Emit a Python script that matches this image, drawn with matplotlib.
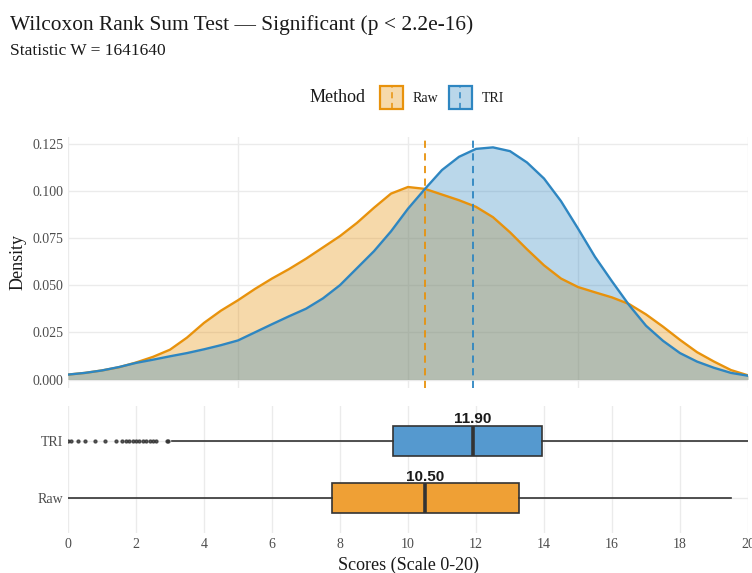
import matplotlib.pyplot as plt
from matplotlib.patches import Rectangle
from matplotlib.lines import Line2D

plt.rcParams["font.family"] = ["Liberation Serif", "DejaVu Serif"]

# density estimates of the scores, sampled every half point
score_grid = [0.0, 0.5, 1.0, 1.5, 2.0, 2.5, 3.0, 3.5, 4.0, 4.5, 5.0,
              5.5, 6.0, 6.5, 7.0, 7.5, 8.0, 8.5, 9.0, 9.5, 10.0,
              10.5, 11.0, 11.5, 12.0, 12.5, 13.0, 13.5, 14.0, 14.5, 15.0,
              15.5, 16.0, 16.5, 17.0, 17.5, 18.0, 18.5, 19.0, 19.5, 20.0]
raw_density = [0.0026, 0.0035, 0.0048, 0.0065, 0.0090, 0.0120, 0.0158, 0.0222, 0.0300, 0.0365, 0.0420,
               0.0480, 0.0535, 0.0585, 0.0640, 0.0700, 0.0760, 0.0830, 0.0910, 0.0985, 0.1020,
               0.1010, 0.0980, 0.0950, 0.0915, 0.0860, 0.0780, 0.0690, 0.0605, 0.0535, 0.0490,
               0.0462, 0.0435, 0.0400, 0.0345, 0.0280, 0.0210, 0.0145, 0.0095, 0.0050, 0.0022]
tri_density = [0.0026, 0.0035, 0.0048, 0.0066, 0.0088, 0.0105, 0.0123, 0.0140, 0.0160, 0.0182, 0.0207,
               0.0250, 0.0293, 0.0335, 0.0375, 0.0430, 0.0500, 0.0590, 0.0680, 0.0785, 0.0905,
               0.1010, 0.1110, 0.1180, 0.1222, 0.1230, 0.1210, 0.1150, 0.1065, 0.0945, 0.0800,
               0.0650, 0.0520, 0.0395, 0.0285, 0.0205, 0.0140, 0.0095, 0.0062, 0.0035, 0.0020]

# boxplot summaries per method
methods = ["Raw", "TRI"]
medians = [10.50, 11.90]
q1 = [7.75, 9.55]
q3 = [13.25, 13.95]
whisker_low = [0.0, 3.05]
whisker_high = [19.5, 20.0]
outliers = [[],
            [0.0, 0.1, 0.3, 0.5, 0.8, 1.1, 1.4, 1.6, 1.7, 1.8, 1.9, 2.0, 2.1,
             2.2, 2.3, 2.4, 2.5, 2.6, 2.9, 2.95]]

line_colors = ["#E8920C", "#2E86C1"]
box_colors = ["#EFA035", "#5599CF"]
fill_alpha = [0.35, 0.33]
grid_color = "#EBEBEB"
tick_color = "#4D4D4D"

W, H = 752, 573
fig = plt.figure(figsize=(W / 100, H / 100), dpi=100)


def fig_box(x0, y0, x1, y1):
    # pixel box (top-left origin) -> figure fraction rect
    return [x0 / W, 1 - y1 / H, (x1 - x0) / W, (y1 - y0) / H]


def fig_pt(x, y):
    return x / W, 1 - y / H


ax_d = fig.add_axes(fig_box(68, 137, 748, 388))
ax_b = fig.add_axes(fig_box(68, 406, 748, 533))

for ax in (ax_d, ax_b):
    for s in ax.spines.values():
        s.set_visible(False)
    ax.tick_params(length=0, colors=tick_color, labelsize=10)
    ax.set_axisbelow(True)

# density panel
ax_d.set_xlim(0, 20)
ax_d.set_ylim(-0.0045, 0.1285)
ax_d.set_xticks([0, 5, 10, 15, 20])
ax_d.set_xticklabels([])
ax_d.set_yticks([0.0, 0.025, 0.05, 0.075, 0.1, 0.125])
ax_d.set_yticklabels(["0.000", "0.025", "0.050", "0.075", "0.100", "0.125"])
ax_d.grid(True, color=grid_color, lw=1.0)
ax_d.set_ylabel("Density", fontsize=13, color="#1A1A1A", labelpad=4)

for dens, lc, a in zip([raw_density, tri_density], line_colors, fill_alpha):
    ax_d.fill_between(score_grid, dens, 0, color=lc, alpha=a, lw=0)
    ax_d.plot(score_grid, dens, color=lc, lw=1.7, solid_joinstyle="round")

for med, lc in zip(medians, line_colors):
    ax_d.axvline(med, color=lc, lw=1.3, ls=(0, (4, 3)))

# boxplot panel
stats = []
for i in range(len(methods)):
    stats.append(dict(med=medians[i], q1=q1[i], q3=q3[i],
                      whislo=whisker_low[i], whishi=whisker_high[i],
                      fliers=outliers[i], label=methods[i]))

positions = [1, 2]
bp = ax_b.bxp(stats, positions=positions, vert=False, widths=0.52,
              patch_artist=True, showcaps=False,
              boxprops=dict(edgecolor="#333333", lw=1.2),
              whiskerprops=dict(color="#333333", lw=1.2),
              medianprops=dict(color="#333333", lw=2.6),
              flierprops=dict(marker="o", markersize=2.1, markerfacecolor="#333333",
                              markeredgecolor="#333333", alpha=0.8))
for patch, bc in zip(bp["boxes"], box_colors):
    patch.set_facecolor(bc)

for pos, med in zip(positions, medians):
    ax_b.text(med, pos + 0.3, f"{med:.2f}", ha="center", va="baseline",
              fontsize=11, fontweight="bold", family=["Liberation Sans", "DejaVu Sans"],
              color="#1A1A1A")

ax_b.set_xlim(0, 20)
ax_b.set_ylim(0.4, 2.6)
ax_b.set_xticks(range(0, 21, 2))
ax_b.set_yticks(positions)
ax_b.set_yticklabels(methods)
ax_b.grid(True, color=grid_color, lw=1.0)
ax_b.set_xlabel("Scores (Scale 0-20)", fontsize=13, color="#1A1A1A", labelpad=4)

# titles
fig.text(*fig_pt(10, 30), "Wilcoxon Rank Sum Test \u2014 Significant (p < 2.2e-16)",
         fontsize=15.4, va="baseline", ha="left", color="#1A1A1A")
fig.text(*fig_pt(10, 55), "Statistic W = 1641640",
         fontsize=12.5, va="baseline", ha="left", color="#1A1A1A")

# legend
fig.text(*fig_pt(310, 98), "Method", fontsize=13, va="center", ha="left", color="#1A1A1A")
for x0, lab, lc, a in zip([380, 449], methods, line_colors, fill_alpha):
    fig.add_artist(Rectangle(fig_pt(x0, 109), 23 / W, 23 / H, transform=fig.transFigure,
                             facecolor=lc, alpha=a, lw=0))
    fig.add_artist(Rectangle(fig_pt(x0, 109), 23 / W, 23 / H, transform=fig.transFigure,
                             facecolor="none", edgecolor=lc, lw=1.6))
    xm = (x0 + 11.5) / W
    fig.add_artist(Line2D([xm, xm], [1 - 109 / H, 1 - 86 / H], transform=fig.transFigure,
                          color=lc, lw=1.1, ls=(0, (4, 3))))
    fig.text(*fig_pt(x0 + 33, 98), lab, fontsize=10, va="center", ha="left", color="#1A1A1A")

fig.savefig("out.png", dpi=100)
